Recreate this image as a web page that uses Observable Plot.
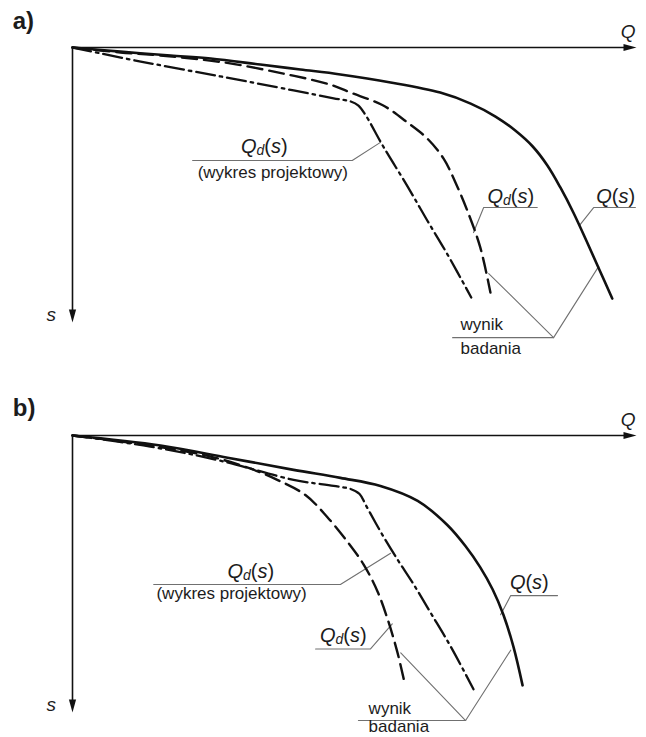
<!DOCTYPE html>
<html>
<head>
<meta charset="utf-8">
<script src="https://cdn.jsdelivr.net/npm/d3@7"></script>
<script src="https://cdn.jsdelivr.net/npm/@observablehq/plot@0.6"></script>
<style>
  html, body { margin: 0; padding: 0; background: #fff; }
  #chart { width: 646px; }
  #chart svg { display: block; }
</style>
</head>
<body>
<div id="chart"></div>
<script>
// ---------- Data (Q and s in relative units 0..100 of each axis) ----------
// Panel a) — test result Q(s) (solid)
const aSolidQ = [0, 8.5, 17.4, 24.5, 33.3, 40.4, 47.5, 56.4, 65.2, 70.6, 75.0, 78.5, 81.6, 84.2, 86.5, 88.8, 91.1, 93.4, 95.7];
const aSolidS = [0, 1.5, 2.9, 4.0, 6.2, 8.0, 9.8, 12.7, 16.4, 20.4, 25.1, 30.2, 36.0, 42.9, 50.9, 60.0, 70.2, 80.7, 91.3];
// Panel a) — Qd(s) (dashed)
const aDashQ = [0, 8.5, 15.6, 27.1, 37.4, 45.7, 49.3, 55.1, 59.4, 62.9, 65.8, 67.9, 70.0, 72.3, 74.1];
const aDashS = [0, 1.8, 2.9, 5.5, 9.5, 13.5, 16.4, 21.1, 27.3, 33.1, 40.4, 49.1, 59.3, 72.7, 89.1];
// Panel a) — Qd(s) design curve (dash-dot)
const aDesignQ = [0, 12.1, 26.2, 39.2, 46.3, 49.3, 50.7, 52.0, 55.1, 59.4, 62.9, 66.5, 70.7];
const aDesignS = [0, 5.1, 10.5, 15.6, 18.5, 19.6, 21.1, 24.7, 36.0, 50.5, 62.9, 75.3, 90.9];

// Panel b) — test result Q(s) (solid)
const bSolidQ = [0, 15.6, 27.5, 39.2, 47.5, 54.6, 61.2, 66.5, 69.7, 72.3, 74.5, 76.4, 78.2, 79.8];
const bSolidS = [0, 3.6, 8.0, 12.4, 15.3, 18.2, 23.6, 32.4, 40.0, 47.6, 55.6, 64.7, 76.4, 90.2];
// Panel b) — Qd(s) (dashed)
const bDashQ = [0, 13.8, 24.5, 31.6, 36.3, 41.3, 45.2, 48.8, 51.6, 54.1, 55.9, 57.6, 58.9];
const bDashS = [0, 3.6, 7.6, 12.0, 16.0, 21.5, 29.5, 38.5, 46.5, 56.4, 66.5, 78.2, 89.5];
// Panel b) — Qd(s) design curve (dash-dot)
const bDesignQ = [0, 13.8, 26.2, 39.2, 46.3, 49.3, 50.9, 52.1, 55.1, 57.6, 60.5, 63.5, 67.0, 71.1];
const bDesignS = [0, 4.0, 9.1, 16.0, 18.2, 19.3, 21.1, 25.5, 36.4, 44.7, 53.8, 64.0, 76.0, 91.6];

// ---------- Annotations ----------
const aLabels   = ["a)", "Q", "s", "Qd(s)", "(wykres projektowy)", "Qd(s)", "Q(s)", "wynik", "badania"];
const aLabelQ   = [-10.6, 97.2, -4.6, 34.0, 35.5, 77.7, 96.3, 68.8, 68.8];
const aLabelS   = [-6.9, -3.3, 99.3, 38.5, 47.6, 56.4, 56.4, 102.9, 111.3];
const bLabels   = ["b)", "Q", "s", "Qd(s)", "(wykres projektowy)", "Qd(s)", "Q(s)", "wynik", "badania"];
const bLabelQ   = [-10.6, 97.2, -4.6, 31.6, 28.2, 48.0, 81.0, 52.5, 52.5];
const bLabelS   = [-6.9, -3.3, 99.3, 51.6, 58.9, 74.5, 55.3, 100.7, 107.2];
const labelKind = ["panel", "axis", "axis", "curve", "sub", "curve", "curve", "sub", "sub"];

const aLeaders = [
  [[21.3, 41.1], [49.6, 41.1], [54.6, 34.5]],
  [[82.4, 58.2], [72.9, 58.2], [71.1, 67.3]],
  [[99.8, 58.2], [92.4, 58.2], [89.9, 64.7]],
  [[67.4, 105.5], [85.3, 105.5]],
  [[73.8, 82.2], [85.3, 105.5], [93.3, 79.6]]
];
const bLeaders = [
  [[14.4, 53.8], [47.5, 53.8], [56.4, 42.5]],
  [[43.1, 77.1], [52.8, 77.1], [56.7, 68.0]],
  [[86.0, 57.8], [77.7, 57.8], [75.9, 64.7]],
  [[50.7, 102.9], [69.7, 102.9]],
  [[58.2, 78.5], [69.7, 102.9], [77.7, 77.5]]
];

// ---------- Helpers ----------
const FONT = "'Liberation Sans', Arial, Helvetica, sans-serif";
const TEXT_COLOR = "#1c1c1c";
const kindStyle = {
  panel: {fontSize: 24, fontWeight: "bold", fontStyle: "normal", textAnchor: "start"},
  axis:  {fontSize: 19, fontWeight: "normal", fontStyle: "italic", textAnchor: "start"},
  curve: {fontSize: 20, fontWeight: "normal", fontStyle: "normal", textAnchor: "middle"},
  sub:   {fontSize: 17, fontWeight: "normal", fontStyle: "normal", textAnchor: "middle"}
};

function curve(Q, S) { return Q.map((q, i) => ({Q: q, s: S[i]})); }

function labelMarks(texts, Qs, Ss) {
  const rows = texts.map((t, i) => ({t, Q: Qs[i], s: Ss[i], kind: labelKind[i]}));
  return rows.map(r => {
    const st = kindStyle[r.kind];
    const a = (r.t === "wynik" || r.t === "badania") ? "start" : st.textAnchor;
    return Plot.text([r], {
      x: "Q", y: "s", text: "t",
      fontSize: st.fontSize, fontWeight: st.fontWeight, fontStyle: st.fontStyle,
      textAnchor: a, lineAnchor: "bottom", fill: TEXT_COLOR
    });
  });
}

function leaderMarks(leaders) {
  const rows = leaders.flatMap((pts, k) => pts.map(([q, s]) => ({Q: q, s, k})));
  return Plot.line(rows, {x: "Q", y: "s", z: "k", stroke: "#707070", strokeWidth: 1.1, curve: "linear"});
}

function makePanel(cfg) {
  const svg = Plot.plot({
    width: 646, height: cfg.height,
    marginLeft: 72, marginRight: 10, marginTop: cfg.top, marginBottom: cfg.bottom,
    x: {domain: [0, 100], axis: null},
    y: {domain: [0, 100], reverse: true, axis: null},
    style: {fontFamily: FONT, background: "white", overflow: "visible"},
    marks: [
      leaderMarks(cfg.leaders),
      Plot.ruleY([0], {x1: 0, x2: 98, stroke: "#111", strokeWidth: 1.6}),
      Plot.ruleX([0], {y1: 0, y2: 96, stroke: "#111", strokeWidth: 1.6}),
      Plot.vector([{Q: 100, s: 0}], {x: "Q", y: "s", shape: "spike", length: 13, r: 3.6, rotate: 90, anchor: "end", fill: "#111", stroke: "none"}),
      Plot.vector([{Q: 0, s: 100}], {x: "Q", y: "s", shape: "spike", length: 13, r: 3.6, rotate: 180, anchor: "end", fill: "#111", stroke: "none"}),
      Plot.line(curve(cfg.designQ, cfg.designS), {x: "Q", y: "s", curve: "catmull-rom", stroke: "#111", strokeWidth: 2.3, strokeDasharray: "19,5,2.5,5"}),
      Plot.line(curve(cfg.dashQ, cfg.dashS), {x: "Q", y: "s", curve: "catmull-rom", stroke: "#111", strokeWidth: 2.4, strokeDasharray: "15,7"}),
      Plot.line(curve(cfg.solidQ, cfg.solidS), {x: "Q", y: "s", curve: "catmull-rom", stroke: "#111", strokeWidth: 2.6}),
      ...labelMarks(cfg.labels, cfg.labelQ, cfg.labelS)
    ]
  });
  // rich text for the curve labels: italic Q, subscript d, italic s
  d3.select(svg).selectAll("text").each(function () {
    const t = this.textContent;
    if (t !== "Qd(s)" && t !== "Q(s)") return;
    const sel = d3.select(this);
    sel.text(null);
    sel.append("tspan").attr("font-style", "italic").text("Q");
    if (t === "Qd(s)") {
      sel.append("tspan").attr("font-style", "italic").attr("font-size", "14").attr("dy", "2").text("d");
      sel.append("tspan").attr("dy", "-2").text("(");
    } else {
      sel.append("tspan").text("(");
    }
    sel.append("tspan").attr("font-style", "italic").text("s");
    sel.append("tspan").text(")");
  });
  return svg;
}

const chart = document.getElementById("chart");
chart.appendChild(makePanel({
  height: 368, top: 47, bottom: 46,
  solidQ: aSolidQ, solidS: aSolidS, dashQ: aDashQ, dashS: aDashS, designQ: aDesignQ, designS: aDesignS,
  labels: aLabels, labelQ: aLabelQ, labelS: aLabelS, leaders: aLeaders
}));
chart.appendChild(makePanel({
  height: 369, top: 67, bottom: 25,
  solidQ: bSolidQ, solidS: bSolidS, dashQ: bDashQ, dashS: bDashS, designQ: bDesignQ, designS: bDesignS,
  labels: bLabels, labelQ: bLabelQ, labelS: bLabelS, leaders: bLeaders
}));
</script>
</body>
</html>
